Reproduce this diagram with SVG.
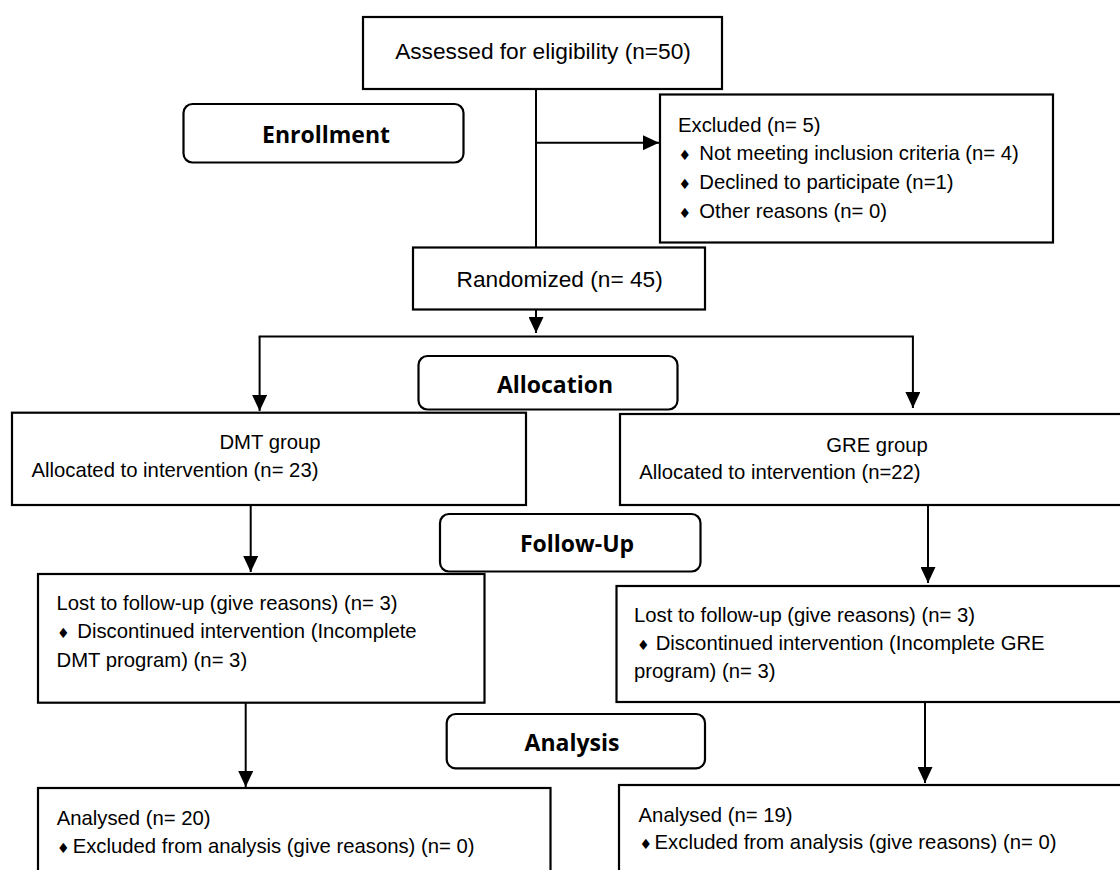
<svg xmlns="http://www.w3.org/2000/svg" width="1120" height="870" viewBox="0 0 1120 870">
  <defs>
    <marker id="ah" markerUnits="userSpaceOnUse" markerWidth="16" markerHeight="15" refX="16" refY="7.5" orient="auto">
      <path d="M0,0 L16,7.5 L0,15 z" fill="#000"/>
    </marker>
    <style>
      .box { fill: #fff; stroke: #000; stroke-width: 2.2; }
      .stage { fill: #fff; stroke: #000; stroke-width: 2.2; }
      .t { font-family: "Liberation Sans", Arial, sans-serif; font-size: 20.3px; fill: #000; }
      .big { font-size: 22.7px; }
      .lbl { font-family: "Open Sans", "Liberation Sans", sans-serif; font-weight: bold; font-size: 23px; fill: #000; text-anchor: middle; }
      .b { font-family: "DejaVu Sans", sans-serif; font-size: 14px; }
      .c { text-anchor: middle; }
      .ln { fill: none; stroke: #000; stroke-width: 2; }
    </style>
  </defs>
  <rect width="1120" height="870" fill="#fff"/>

  <g id="connectors">
    <line class="ln" x1="536" y1="89" x2="536" y2="247.5"/>
    <line class="ln" x1="536" y1="142.7" x2="659" y2="142.7" marker-end="url(#ah)"/>
    <line class="ln" x1="536" y1="309.5" x2="536" y2="333" marker-end="url(#ah)"/>
    <line class="ln" x1="258.6" y1="336.5" x2="913.9" y2="336.5"/>
    <line class="ln" x1="259.6" y1="336.5" x2="259.6" y2="411" marker-end="url(#ah)"/>
    <line class="ln" x1="912.9" y1="336.5" x2="912.9" y2="408" marker-end="url(#ah)"/>
    <line class="ln" x1="250.7" y1="505" x2="250.7" y2="572" marker-end="url(#ah)"/>
    <line class="ln" x1="928" y1="505" x2="928" y2="583" marker-end="url(#ah)"/>
    <line class="ln" x1="245.7" y1="702.7" x2="245.7" y2="787" marker-end="url(#ah)"/>
    <line class="ln" x1="925" y1="702" x2="925" y2="783" marker-end="url(#ah)"/>
  </g>

  <g id="assessed">
    <rect class="box" x="363" y="17" width="359" height="72"/>
    <text class="t big c" x="543" y="59">Assessed for eligibility (n=50)</text>
  </g>

  <g id="enrollment">
    <rect class="stage" x="183.5" y="104" width="280" height="58.5" rx="9"/>
    <text class="lbl" x="326" y="143">Enrollment</text>
  </g>

  <g id="excluded">
    <rect class="box" x="660" y="94.5" width="393" height="148"/>
    <text class="t" x="678" y="131.7">Excluded (n= 5)</text>
    <text class="t" y="160"><tspan class="b" x="678.5">♦</tspan><tspan x="699.3">Not meeting inclusion criteria (n= 4)</tspan></text>
    <text class="t" y="189.3"><tspan class="b" x="678.5">♦</tspan><tspan x="699.3">Declined to participate (n=1)</tspan></text>
    <text class="t" y="218.3"><tspan class="b" x="678.5">♦</tspan><tspan x="699.3">Other reasons (n= 0)</tspan></text>
  </g>

  <g id="randomized">
    <rect class="box" x="413" y="247.5" width="292" height="62"/>
    <text class="t big c" x="559.7" y="287">Randomized (n= 45)</text>
  </g>

  <g id="allocation">
    <rect class="stage" x="418.5" y="356" width="259" height="53.5" rx="9"/>
    <text class="lbl" x="555" y="393.3">Allocation</text>
  </g>

  <g id="dmt-group">
    <rect class="box" x="12" y="412.7" width="514" height="92.3"/>
    <text class="t c" x="270" y="449">DMT group</text>
    <text class="t" x="31.5" y="477">Allocated to intervention (n= 23)</text>
  </g>

  <g id="gre-group">
    <rect class="box" x="620" y="414" width="530" height="91"/>
    <text class="t c" x="877" y="452">GRE group</text>
    <text class="t" x="639.3" y="479">Allocated to intervention (n=22)</text>
  </g>

  <g id="follow-up">
    <rect class="stage" x="440" y="514" width="260.5" height="57.5" rx="9"/>
    <text class="lbl" x="577" y="551.7">Follow-Up</text>
  </g>

  <g id="dmt-lost">
    <rect class="box" x="38" y="574" width="446.5" height="128.7"/>
    <text class="t" x="56.5" y="610">Lost to follow-up (give reasons) (n= 3)</text>
    <text class="t" y="638.3"><tspan class="b" x="57">♦</tspan><tspan x="77.3">Discontinued intervention (Incomplete</tspan></text>
    <text class="t" x="56.5" y="666.7">DMT program) (n= 3)</text>
  </g>

  <g id="gre-lost">
    <rect class="box" x="616.5" y="586" width="530" height="116"/>
    <text class="t" x="634" y="621.7">Lost to follow-up (give reasons) (n= 3)</text>
    <text class="t" y="650"><tspan class="b" x="637">♦</tspan><tspan x="655.7">Discontinued intervention (Incomplete GRE</tspan></text>
    <text class="t" x="634" y="678.3">program) (n= 3)</text>
  </g>

  <g id="analysis">
    <rect class="stage" x="446.7" y="714" width="258.3" height="54.3" rx="9"/>
    <text class="lbl" x="572" y="750.7">Analysis</text>
  </g>

  <g id="dmt-analysed">
    <rect class="box" x="38" y="788" width="512.5" height="100"/>
    <text class="t" x="56.7" y="825">Analysed (n= 20)</text>
    <text class="t" y="852.7"><tspan class="b" x="57">♦</tspan><tspan x="72.7">Excluded from analysis (give reasons) (n= 0)</tspan></text>
  </g>

  <g id="gre-analysed">
    <rect class="box" x="619" y="785" width="530" height="100"/>
    <text class="t" x="638.6" y="821.7">Analysed (n= 19)</text>
    <text class="t" y="849.3"><tspan class="b" x="639.5">♦</tspan><tspan x="654.6">Excluded from analysis (give reasons) (n= 0)</tspan></text>
  </g>
</svg>
